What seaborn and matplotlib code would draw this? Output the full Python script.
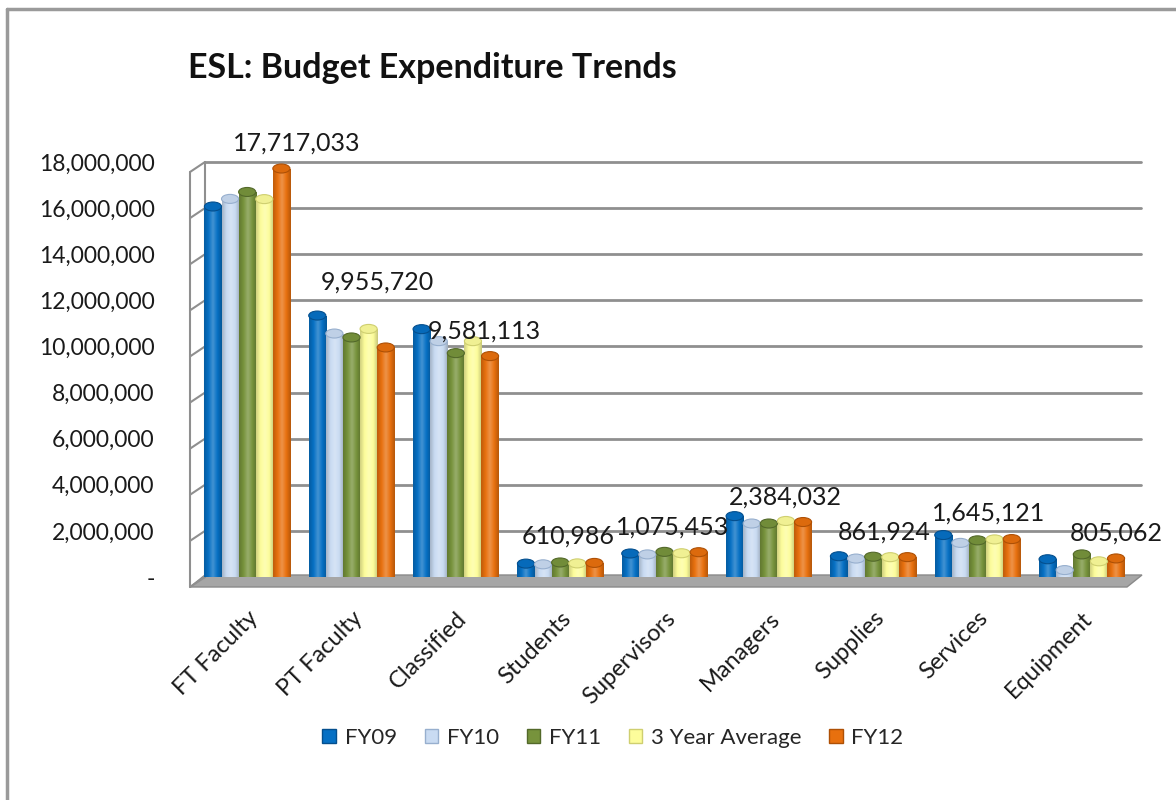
import matplotlib
matplotlib.use("Agg")
import matplotlib.pyplot as plt
import matplotlib.ticker as mticker
from matplotlib.patches import Polygon, Ellipse
from matplotlib.lines import Line2D
from matplotlib.colors import LinearSegmentedColormap, to_rgb
import numpy as np
import seaborn as sns
import pandas as pd

categories = ["FT Faculty", "PT Faculty", "Classified", "Students", "Supervisors",
              "Managers", "Supplies", "Services", "Equipment"]
series = ["FY09", "FY10", "FY11", "3 Year Average", "FY12"]

fy09 = [16070000, 11340000, 10750000, 580000, 1020000, 2640000, 900000, 1820000, 770000]
fy10 = [16400000, 10560000, 10230000, 550000, 980000, 2320000, 800000, 1480000, 300000]
fy11 = [16700000, 10390000, 9710000, 630000, 1090000, 2320000, 880000, 1590000, 980000]
avg3 = [16390000, 10760000, 10230000, 590000, 1030000, 2430000, 860000, 1630000, 680000]
fy12 = [17717033, 9955720, 9581113, 610986, 1075453, 2384032, 861924, 1645121, 805062]

y_ticks = [0, 2000000, 4000000, 6000000, 8000000, 10000000, 12000000, 14000000,
           16000000, 18000000]

colors = ["#0670C4", "#C9DBF2", "#77933C", "#FDFD9B", "#E8700E"]
edge_colors = ["#044F8E", "#97AFCE", "#53692A", "#CFCF70", "#AE5005"]

# label nudges (points) for the FY12 value labels
label_dx = [11, -6, -4, -19, -19, -13, -17, -17, 0]
label_dy = [18, 47, 18, 19, 18, 18, 18, 19, 18]

df = pd.DataFrame({
    "category": categories * len(series),
    "series": sum([[s] * len(categories) for s in series], []),
    "value": fy09 + fy10 + fy11 + avg3 + fy12,
})

sns.set_theme(style="white")
plt.rcParams["font.family"] = ["Lato", "DejaVu Sans"]

W, H = 1176, 800
AX_L, AX_R, AX_T, AX_B = 195, 1134, 162, 577
fig = plt.figure(figsize=(W / 100, H / 100), dpi=100)
ax = fig.add_axes([AX_L / W, (H - AX_B) / H, (AX_R - AX_L) / W, (AX_B - AX_T) / H])

sns.barplot(data=df, x="category", y="value", hue="series", order=categories,
            hue_order=series, palette=colors, width=0.82, saturation=1,
            ax=ax, legend=False, zorder=3)

ax.set_xlim(-0.5, len(categories) - 0.5)
ax.set_ylim(0, 18000000)


def lighten(c, f):
    r = np.array(to_rgb(c))
    return tuple(r + (1 - r) * f)


def darken(c, f):
    return tuple(np.array(to_rgb(c)) * (1 - f))


# cylinder shading: horizontal gradient clipped to each bar, plus a rounded cap
grad = np.linspace(0, 1, 64).reshape(1, -1)
px_per_unit = (AX_B - AX_T) / 18000000
cap_h = 9 / px_per_unit
for container, c, ec in zip(ax.containers, colors, edge_colors):
    cmap = LinearSegmentedColormap.from_list(
        "cyl", [darken(c, 0.18), c, lighten(c, 0.25), c, darken(c, 0.22)])
    for bar in container:
        x, w, h = bar.get_x(), bar.get_width(), bar.get_height()
        bar.set_edgecolor("none")
        im = ax.imshow(grad, extent=[x, x + w, 0, h], aspect="auto", cmap=cmap,
                       zorder=3.2, interpolation="bicubic")
        im.set_clip_path(bar)
        cap = Ellipse((x + w / 2, h), w, cap_h, facecolor=darken(c, 0.05),
                      edgecolor=ec, lw=0.8, zorder=3.4)
        ax.add_patch(cap)

ax.set_xlim(-0.5, len(categories) - 0.5)
ax.set_ylim(0, 18000000)
ax.set_yticks(y_ticks)
ax.yaxis.set_major_formatter(mticker.FuncFormatter(
    lambda v, _: "-" if v == 0 else f"{int(v):,}"))
ax.tick_params(axis="y", length=0, pad=29, labelsize=16.5, labelcolor="#1a1a1a")
ax.tick_params(axis="x", length=0, pad=22, labelsize=17, labelcolor="#1a1a1a")
plt.setp(ax.get_xticklabels(), rotation=45, ha="right", rotation_mode="anchor")
ax.set_xlabel("")
ax.set_ylabel("")
for side in ["top", "right", "bottom", "left"]:
    ax.spines[side].set_visible(False)

# back-wall gridlines, running from the back-left edge to the right end
left_back, left_front, depth = 205, 190, 10
wall_right = 1141
g_min = (left_back - AX_L) / (AX_R - AX_L)
g_max = (wall_right - AX_L) / (AX_R - AX_L)
for v in y_ticks[1:]:
    ax.axhline(v, xmin=g_min, xmax=g_max, color="#8f8f8f", lw=2, zorder=1,
               clip_on=False)

# left wall with slanted tick edges and gray floor
for v in y_ticks:
    yy = ax.transData.transform((0, v))[1]
    fig.add_artist(Line2D([left_front, left_back], [yy - depth, yy],
                          color="#8f8f8f", lw=1.5, transform=None))
top_y = ax.transData.transform((0, y_ticks[-1]))[1]
base_y = ax.transData.transform((0, 0))[1]
fig.add_artist(Line2D([left_back, left_back], [base_y, top_y], color="#8f8f8f",
                      lw=1.5, transform=None))
fig.add_artist(Line2D([left_front, left_front], [base_y - depth, top_y - depth],
                      color="#8f8f8f", lw=1.5, transform=None))
floor = Polygon([(left_back, base_y + 2), (wall_right + 1, base_y + 2),
                 (1127, base_y - depth), (left_front, base_y - depth)],
                closed=True, facecolor="#a6a6a6", edgecolor="#8a8a8a", lw=1,
                transform=None, zorder=0)
fig.add_artist(floor)
ax.set_zorder(2)
ax.patch.set_alpha(0)

# FY12 value labels
fy12_bars = ax.containers[-1]
for bar, val, dx, dy in zip(fy12_bars, fy12, label_dx, label_dy):
    ax.annotate(f"{val:,}", (bar.get_x() + bar.get_width() / 2, bar.get_height()),
                xytext=(dx, dy), textcoords="offset points", ha="center",
                va="center", fontsize=18, color="#1a1a1a", zorder=5,
                annotation_clip=False)

fig.text(188 / W, 1 - 68 / H, "ESL: Budget Expenditure Trends", fontsize=24.5,
         fontweight="bold", color="#111111", ha="left", va="center")

handles = [plt.Rectangle((0, 0), 1, 1, facecolor=c, edgecolor=e)
           for c, e in zip(colors, edge_colors)]
fig.legend(handles, series, loc="center", bbox_to_anchor=(613 / W, 1 - 738 / H),
           ncol=5, frameon=False, fontsize=16, handlelength=0.6,
           handleheight=0.6, handletextpad=0.4, columnspacing=1.25)

# chart frame
fig.add_artist(Line2D([7, 7], [0, H - 9], color="#9a9a9a", lw=2.5, transform=None))
fig.add_artist(Line2D([7, W], [H - 9, H - 9], color="#9a9a9a", lw=2.5,
                      transform=None))

fig.savefig("out.png", dpi=100, facecolor="white")
